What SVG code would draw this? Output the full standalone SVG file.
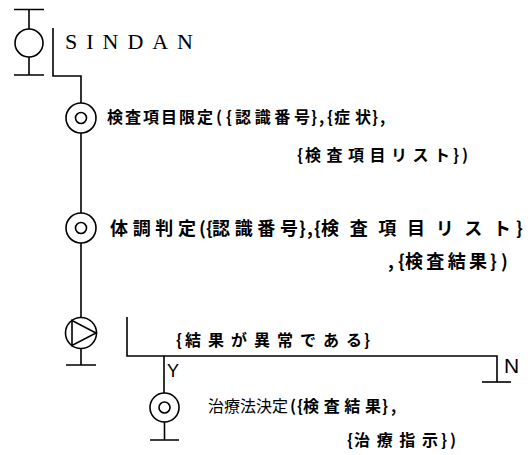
<svg xmlns="http://www.w3.org/2000/svg" width="532" height="455" viewBox="0 0 532 455">
<style>
.ln{stroke:#000;stroke-width:1.6;fill:none}
.jp{font-family:"Noto Sans CJK JP","Noto Sans CJK SC",sans-serif;font-size:16px;font-weight:bold;fill:#000}
.big{font-size:18px}
.lt{font-family:"Liberation Sans",Arial,sans-serif;fill:#000}
.sf{font-family:"Liberation Serif","Times New Roman",serif;fill:#000}
</style>
<rect width="532" height="455" fill="#fff"/>
<g id="connectors">
<path class="ln" d="M53,28 V76 H81 V103"/>
<path class="ln" d="M81,133 V213"/>
<path class="ln" d="M81,243 V318"/>
<path class="ln" d="M127,317 V356 H497 V382"/>
<path class="ln" d="M164,356 V393"/>
</g>
<g id="start">
<path class="ln" d="M14,9.5 H44 M29,9.5 V29 M29,57 V75 M14,75 H44"/>
<circle class="ln" cx="29" cy="43" r="14"/>
<text class="sf" x="65" y="49" font-size="22" textLength="128" lengthAdjust="spacing">SINDAN</text>
</g>
<g id="node1">
<circle class="ln" cx="81" cy="118" r="15"/>
<circle class="ln" cx="81" cy="118" r="5.5"/>
<text class="jp" y="123"><tspan x="107" textLength="106" lengthAdjust="spacing">検査項目限定</tspan><tspan x="216">(</tspan><tspan x="226">{</tspan><tspan x="235" textLength="75" lengthAdjust="spacing">認識番号</tspan><tspan x="311">}</tspan><tspan x="319">,</tspan><tspan x="327">{</tspan><tspan x="334" textLength="37" lengthAdjust="spacing">症状</tspan><tspan x="372">}</tspan><tspan x="380">,</tspan></text>
<text class="jp" y="161"><tspan x="297">{</tspan><tspan x="305" textLength="145" lengthAdjust="spacing">検査項目リスト</tspan><tspan x="453">}</tspan><tspan x="462">)</tspan></text>
</g>
<g id="node2">
<circle class="ln" cx="81" cy="228" r="15"/>
<circle class="ln" cx="81" cy="228" r="5.5"/>
<text class="jp big" y="235"><tspan x="110" textLength="86" lengthAdjust="spacing">体調判定</tspan><tspan x="199">(</tspan><tspan x="206">{</tspan><tspan x="212" textLength="86" lengthAdjust="spacing">認識番号</tspan><tspan x="299">}</tspan><tspan x="307">,</tspan><tspan x="314">{</tspan><tspan x="321" textLength="190" lengthAdjust="spacing">検査項目リスト</tspan><tspan x="516">}</tspan></text>
<text class="jp big" y="268"><tspan x="388">,</tspan><tspan x="398">{</tspan><tspan x="405" textLength="82" lengthAdjust="spacing">検査結果</tspan><tspan x="490">}</tspan><tspan x="501">)</tspan></text>
</g>
<g id="decision">
<circle class="ln" cx="81" cy="333" r="15.5"/>
<path class="ln" d="M72,320.5 L96,333 L72,345.5 Z"/>
<path class="ln" d="M81,348.5 V365 M66,365 H96"/>
<text class="jp" y="346"><tspan x="176">{</tspan><tspan x="185" textLength="177" lengthAdjust="spacing">結果が異常である</tspan><tspan x="364">}</tspan></text>
<text class="lt" x="167" y="377" font-size="18">Y</text>
</g>
<g id="end-n">
<path class="ln" d="M482,382 H511"/>
<text class="lt" x="504" y="373" font-size="21">N</text>
</g>
<g id="node3">
<circle class="ln" cx="164.5" cy="407.5" r="14.5"/>
<circle class="ln" cx="164.5" cy="407.5" r="5.5"/>
<path class="ln" d="M164.5,422 V440 M150,440 H179"/>
<text class="jp" y="412"><tspan x="208" textLength="80" lengthAdjust="spacing" font-weight="normal">治療法決定</tspan><tspan x="290">(</tspan><tspan x="297">{</tspan><tspan x="303" textLength="78" lengthAdjust="spacing">検査結果</tspan><tspan x="382">}</tspan><tspan x="391">,</tspan></text>
<text class="jp" y="446"><tspan x="347">{</tspan><tspan x="354" textLength="84" lengthAdjust="spacing">治療指示</tspan><tspan x="441">}</tspan><tspan x="450">)</tspan></text>
</g>
</svg>
